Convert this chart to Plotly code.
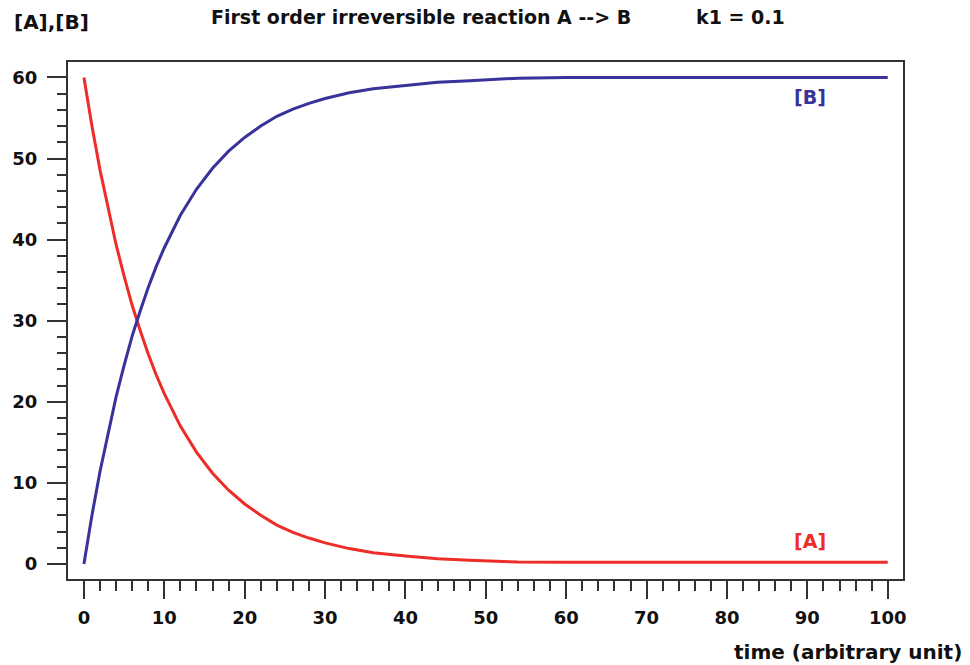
import plotly.graph_objects as go

# values
time = [0, 1, 2, 3, 4, 5, 6, 7, 8, 9, 10, 12, 14, 16, 18, 20, 22, 24, 26, 28, 30,
        33, 36, 40, 44, 48, 54, 60, 70, 80, 90, 100]
conc_A = [60.0, 54.0, 48.6, 43.8, 39.4, 35.5, 31.9, 28.8, 25.9, 23.3, 21.0, 17.0, 13.8,
          11.2, 9.1, 7.4, 6.0, 4.8, 3.9, 3.2, 2.6, 1.9, 1.4, 1.0, 0.65, 0.45, 0.25,
          0.2, 0.2, 0.2, 0.2, 0.2]
conc_B = [0.0, 6.0, 11.4, 16.2, 20.6, 24.5, 28.1, 31.2, 34.1, 36.7, 39.0, 43.0, 46.2,
          48.8, 50.9, 52.6, 54.0, 55.2, 56.1, 56.8, 57.4, 58.1, 58.6, 59.0, 59.4, 59.6,
          59.9, 60.0, 60.0, 60.0, 60.0, 60.0]
x_ticks = [0, 10, 20, 30, 40, 50, 60, 70, 80, 90, 100]
y_ticks = [0, 10, 20, 30, 40, 50, 60]

RED = "#ee2c28"
BLUE = "#38329a"
DARK = "#333333"
FONT = "DejaVu Sans"

fig = go.Figure()
fig.add_trace(go.Scatter(x=time, y=conc_A, mode="lines",
                         line=dict(color=RED, width=3), name="[A]"))
fig.add_trace(go.Scatter(x=time, y=conc_B, mode="lines",
                         line=dict(color=BLUE, width=3), name="[B]"))

axis_common = dict(
    showline=True, mirror=True, linecolor=DARK, linewidth=2,
    showgrid=False, zeroline=False, ticks="outside", tickwidth=2,
    tickcolor=DARK,
    tickfont=dict(family=FONT, size=18, color="#111111", weight="bold"),
)

fig.update_xaxes(**axis_common, range=[-1.98, 101.9], tickvals=x_ticks,
                 ticklen=18, ticklabelstandoff=3,
                 minor=dict(ticks="outside", tick0=0, dtick=2, ticklen=10,
                            tickwidth=2, tickcolor=DARK))
fig.update_yaxes(**axis_common, range=[-1.85, 61.9], tickvals=y_ticks,
                 ticklen=19, ticklabelstandoff=6,
                 minor=dict(ticks="outside", tick0=0, dtick=2, ticklen=9,
                            tickwidth=2, tickcolor=DARK))

fig.update_layout(
    width=970, height=665,
    margin=dict(l=62, r=67, t=62, b=86),
    paper_bgcolor="white", plot_bgcolor="white",
    showlegend=False,
    font=dict(family=FONT, weight="bold", color="#111111"),
)

plot_w, plot_h = 841, 517
def px(xp):
    return (xp - 62) / plot_w
def py(yp):
    return (665 - 86 - yp) / plot_h

title_font = dict(family=FONT, size=19, color="#111111", weight="bold")
fig.add_annotation(text="First order irreversible reaction A --> B",
                   xref="paper", yref="paper", x=px(204), y=py(17),
                   xanchor="left", yanchor="middle", showarrow=False,
                   font=title_font)
fig.add_annotation(text="k1 = 0.1",
                   xref="paper", yref="paper", x=px(786), y=py(17),
                   xanchor="right", yanchor="middle", showarrow=False,
                   font=title_font)
fig.add_annotation(text="[A],[B]", xref="paper", yref="paper",
                   x=px(6), y=py(22), xanchor="left", yanchor="middle",
                   showarrow=False,
                   font=dict(family=FONT, size=20, color="#111111", weight="bold"))
fig.add_annotation(text="time (arbitrary unit)", xref="paper", yref="paper",
                   x=px(964), y=py(652), xanchor="right", yanchor="middle",
                   showarrow=False,
                   font=dict(family=FONT, size=20, color="#111111", weight="bold"))
fig.add_annotation(text="[B]", x=90.3, y=57.6, xref="x", yref="y",
                   showarrow=False,
                   font=dict(family=FONT, size=19, color=BLUE, weight="bold"))
fig.add_annotation(text="[A]", x=90.3, y=2.8, xref="x", yref="y",
                   showarrow=False,
                   font=dict(family=FONT, size=19, color=RED, weight="bold"))

fig.write_html("out.html")
